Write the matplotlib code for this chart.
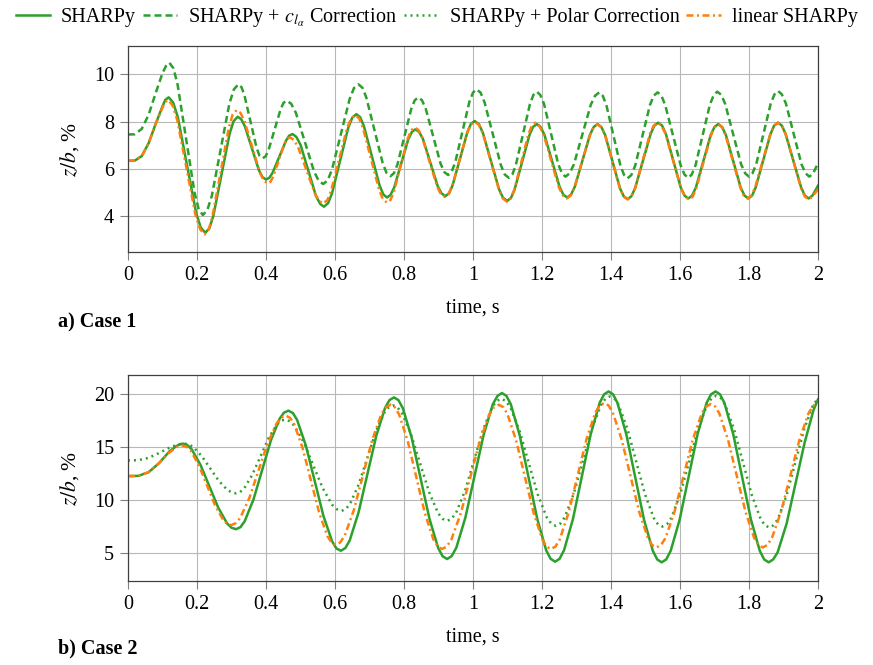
import matplotlib
matplotlib.use("Agg")
import matplotlib.pyplot as plt
from matplotlib.lines import Line2D

plt.rcParams['font.family'] = ['Liberation Serif', 'DejaVu Serif']
plt.rcParams['mathtext.fontset'] = 'stix'
plt.rcParams['font.size'] = 14.5

GREEN = '#2ca02c'
ORANGE = '#ff7f0e'

# ---- Case 1 ----
c1_sharpy_t = [0, 0.02, 0.04, 0.06, 0.08, 0.10, 0.118,
               0.1445, 0.171, 0.1975, 0.224, 0.2475, 0.271, 0.2945, 0.318,
               0.3385, 0.359, 0.3795, 0.400, 0.419, 0.4385, 0.458, 0.477,
               0.500, 0.5225, 0.545, 0.568, 0.5915, 0.615, 0.6385, 0.662,
               0.684, 0.7065, 0.729, 0.751, 0.7715, 0.792, 0.8125, 0.833,
               0.855, 0.8765, 0.898, 0.920, 0.941, 0.9625, 0.984, 1.005,
               1.0285, 1.052, 1.0755, 1.099, 1.1205, 1.142, 1.1635, 1.185,
               1.207, 1.229, 1.251, 1.273, 1.295, 1.317, 1.339, 1.361,
               1.383, 1.4045, 1.426, 1.448, 1.470, 1.4925, 1.515, 1.537,
               1.559, 1.5805, 1.602, 1.624, 1.646, 1.6675, 1.689, 1.711,
               1.733, 1.7545, 1.776, 1.798, 1.8195, 1.841, 1.8625, 1.884,
               1.906, 1.9285, 1.951, 1.973, 2.0]
c1_sharpy_z = [6.35, 6.36, 6.55, 7.1, 7.9, 8.65, 9.03,
               8.19, 6.17, 4.15, 3.31, 4.03, 5.76, 7.49, 8.21,
               7.82, 6.89, 5.95, 5.56, 5.84, 6.52, 7.20, 7.48,
               7.03, 5.95, 4.86, 4.41, 4.98, 6.37, 7.75, 8.32,
               7.81, 6.56, 5.32, 4.80, 5.22, 6.24, 7.26, 7.68,
               7.27, 6.27, 5.27, 4.86, 5.32, 6.45, 7.57, 8.03,
               7.54, 6.35, 5.15, 4.66, 5.13, 6.28, 7.43, 7.90,
               7.45, 6.35, 5.25, 4.80, 5.25, 6.35, 7.45, 7.90,
               7.44, 6.32, 5.19, 4.73, 5.20, 6.35, 7.49, 7.96,
               7.49, 6.36, 5.23, 4.76, 5.22, 6.33, 7.44, 7.90,
               7.44, 6.33, 5.22, 4.76, 5.23, 6.36, 7.49, 7.96,
               7.49, 6.36, 5.23, 4.76, 5.30]
# readings close to each peak / trough
c1_sharpy_pk_t = [0.108, 0.131, 0.211, 0.236, 0.306, 0.328, 0.390, 0.4096,
                  0.467, 0.488, 0.557, 0.580, 0.650, 0.673, 0.740, 0.761,
                  0.823, 0.844, 0.909, 0.931, 0.994, 1.017, 1.087, 1.110,
                  1.174, 1.196, 1.262, 1.284, 1.350, 1.372, 1.437, 1.459,
                  1.526, 1.548, 1.613, 1.635, 1.700, 1.722, 1.787, 1.809,
                  1.873, 1.895, 1.962, 1.984]
c1_sharpy_pk_z = [8.92, 8.81, 3.53, 3.50, 8.02, 8.11, 5.66, 5.63,
                  7.41, 7.36, 4.53, 4.56, 8.17, 8.19, 4.93, 4.91,
                  7.57, 7.57, 4.97, 4.98, 7.91, 7.90, 4.79, 4.78,
                  7.78, 7.78, 4.92, 4.92, 7.78, 7.78, 4.85, 4.85,
                  7.84, 7.84, 4.88, 4.88, 7.78, 7.78, 4.88, 4.88,
                  7.84, 7.84, 4.88, 4.88]

c1_cla_t = [0, 0.02, 0.04, 0.06, 0.08, 0.10, 0.120,
            0.144, 0.1685, 0.193, 0.217, 0.243, 0.2685, 0.294, 0.320,
            0.3375, 0.355, 0.3725, 0.390, 0.4075, 0.425, 0.4425, 0.460,
            0.4865, 0.513, 0.5395, 0.566, 0.5915, 0.617, 0.6425, 0.668,
            0.691, 0.7145, 0.738, 0.761, 0.781, 0.801, 0.821, 0.841,
            0.863, 0.8845, 0.906, 0.928, 0.9485, 0.969, 0.9895, 1.010,
            1.0335, 1.057, 1.0805, 1.104, 1.124, 1.1445, 1.165, 1.185,
            1.206, 1.2265, 1.247, 1.268, 1.2925, 1.317, 1.3415, 1.366,
            1.3865, 1.407, 1.4275, 1.448, 1.470, 1.4915, 1.513, 1.535,
            1.557, 1.5795, 1.602, 1.624, 1.645, 1.666, 1.687, 1.708,
            1.731, 1.754, 1.777, 1.800, 1.821, 1.842, 1.863, 1.884,
            1.907, 1.9295, 1.952, 1.975, 2.0]
c1_cla_z = [7.46, 7.47, 7.7, 8.3, 9.2, 10.05, 10.49,
            9.55, 7.28, 5.00, 4.06, 4.87, 6.82, 8.77, 9.58,
            9.12, 8.02, 6.91, 6.45, 6.81, 7.67, 8.53, 8.89,
            8.38, 7.13, 5.89, 5.37, 5.99, 7.48, 8.96, 9.58,
            9.01, 7.64, 6.27, 5.70, 6.19, 7.37, 8.54, 9.03,
            8.55, 7.39, 6.23, 5.75, 6.28, 7.56, 8.84, 9.37,
            8.82, 7.50, 6.18, 5.63, 6.16, 7.45, 8.74, 9.27,
            8.75, 7.48, 6.21, 5.68, 6.20, 7.46, 8.72, 9.24,
            8.71, 7.43, 6.14, 5.61, 6.14, 7.43, 8.71, 9.24,
            8.71, 7.44, 6.16, 5.63, 6.16, 7.45, 8.74, 9.27,
            8.75, 7.48, 6.21, 5.68, 6.21, 7.49, 8.77, 9.30,
            8.77, 7.49, 6.21, 5.68, 6.25]
c1_cla_pk_t = [0.110, 0.132, 0.205, 0.230, 0.307, 0.329, 0.381, 0.399,
               0.451, 0.473, 0.553, 0.579, 0.655, 0.680, 0.749, 0.771,
               0.831, 0.852, 0.917, 0.938, 1.000, 1.022, 1.092, 1.114,
               1.175, 1.195, 1.258, 1.280, 1.354, 1.376, 1.438, 1.459,
               1.524, 1.546, 1.613, 1.634, 1.698, 1.720, 1.789, 1.810,
               1.874, 1.895, 1.964, 1.986]
c1_cla_pk_z = [10.35, 10.25, 4.30, 4.27, 9.37, 9.46, 6.57, 6.54,
               8.80, 8.76, 5.50, 5.53, 9.42, 9.43, 5.85, 5.83,
               8.90, 8.91, 5.87, 5.89, 9.23, 9.23, 5.77, 5.77,
               9.13, 9.13, 5.82, 5.82, 9.10, 9.10, 5.75, 5.75,
               9.10, 9.10, 5.77, 5.77, 9.13, 9.13, 5.82, 5.82,
               9.16, 9.16, 5.82, 5.82]

c1_lin_t = [0, 0.02, 0.04, 0.06, 0.08, 0.10, 0.116,
            0.1425, 0.169, 0.1955, 0.222, 0.245, 0.2685, 0.292, 0.315,
            0.3375, 0.36, 0.3825, 0.405, 0.421, 0.437, 0.453, 0.469,
            0.493, 0.5175, 0.542, 0.566, 0.589, 0.612, 0.635, 0.658,
            0.681, 0.7045, 0.728, 0.751, 0.771, 0.791, 0.811, 0.831,
            0.853, 0.8745, 0.896, 0.918, 0.940, 0.9615, 0.983, 1.005,
            1.0285, 1.052, 1.0755, 1.099, 1.1195, 1.14, 1.1605, 1.181,
            1.204, 1.2265, 1.249, 1.272, 1.294, 1.3165, 1.339, 1.361,
            1.383, 1.4045, 1.426, 1.448, 1.470, 1.4915, 1.513, 1.535,
            1.558, 1.5805, 1.603, 1.626, 1.647, 1.6685, 1.690, 1.711,
            1.732, 1.7535, 1.775, 1.796, 1.818, 1.840, 1.862, 1.884,
            1.906, 1.9285, 1.951, 1.973, 2.0]
c1_lin_z = [6.35, 6.36, 6.55, 7.1, 7.9, 8.6, 8.92,
            8.09, 6.08, 4.07, 3.24, 4.01, 5.87, 7.72, 8.49,
            8.04, 6.94, 5.84, 5.39, 5.68, 6.37, 7.05, 7.34,
            6.93, 5.95, 4.96, 4.55, 5.10, 6.42, 7.73, 8.28,
            7.74, 6.43, 5.12, 4.58, 5.05, 6.17, 7.29, 7.76,
            7.33, 6.30, 5.26, 4.83, 5.29, 6.42, 7.54, 8.00,
            7.51, 6.31, 5.12, 4.62, 5.11, 6.29, 7.47, 7.96,
            7.49, 6.36, 5.23, 4.76, 5.22, 6.33, 7.43, 7.89,
            7.43, 6.31, 5.18, 4.72, 5.19, 6.34, 7.49, 7.96,
            7.49, 6.34, 5.19, 4.72, 5.18, 6.31, 7.43, 7.89,
            7.43, 6.33, 5.22, 4.76, 5.23, 6.36, 7.49, 7.96,
            7.49, 6.34, 5.19, 4.72, 5.15]
c1_lin_pk_t = [0.107, 0.129, 0.209, 0.234, 0.303, 0.326, 0.394, 0.413,
               0.461, 0.481, 0.554, 0.578, 0.647, 0.670, 0.739, 0.761,
               0.821, 0.842, 0.907, 0.929, 0.994, 1.017, 1.087, 1.109,
               1.171, 1.192, 1.261, 1.283, 1.350, 1.372, 1.437, 1.459,
               1.524, 1.546, 1.615, 1.637, 1.700, 1.722, 1.785, 1.807,
               1.873, 1.895, 1.962, 1.984]
c1_lin_pk_z = [8.82, 8.70, 3.46, 3.44, 8.29, 8.37, 5.51, 5.46,
               7.27, 7.23, 4.66, 4.69, 8.14, 8.14, 4.72, 4.70,
               7.64, 7.65, 4.94, 4.95, 7.88, 7.87, 4.75, 4.75,
               7.84, 7.84, 4.88, 4.88, 7.77, 7.77, 4.84, 4.84,
               7.84, 7.84, 4.84, 4.84, 7.77, 7.77, 4.88, 4.88,
               7.84, 7.84, 4.84, 4.84]

# ---- Case 2 ----
c2_sharpy_t = [0, 0.03, 0.06, 0.09, 0.12, 0.14, 0.159,
               0.1847, 0.2103, 0.236, 0.2617, 0.2873, 0.313,
               0.3383, 0.3637, 0.389, 0.4143, 0.4397, 0.465,
               0.4903, 0.5157, 0.541, 0.5663, 0.5917, 0.617,
               0.6427, 0.6683, 0.694, 0.7197, 0.7453, 0.771,
               0.7967, 0.8223, 0.848, 0.8737, 0.8993, 0.925,
               0.9515, 0.978, 1.0045, 1.031, 1.0575, 1.084,
               1.1097, 1.1353, 1.161, 1.1867, 1.2123, 1.238,
               1.2638, 1.2897, 1.3155, 1.3413, 1.3672, 1.393,
               1.4187, 1.4443, 1.470, 1.4957, 1.5213, 1.547,
               1.573, 1.599, 1.625, 1.651, 1.677, 1.703,
               1.7287, 1.7543, 1.780, 1.8057, 1.8313, 1.857,
               1.883, 1.909, 1.935, 1.961, 1.987, 2.0]
c2_sharpy_z = [12.28, 12.30, 12.65, 13.5, 14.6, 15.1, 15.34,
               14.80, 13.33, 11.31, 9.30, 7.82, 7.28,
               8.03, 10.07, 12.86, 15.65, 17.69, 18.44,
               17.56, 15.14, 11.85, 8.55, 6.13, 5.25,
               6.22, 8.86, 12.47, 16.08, 18.72, 19.69,
               18.67, 15.89, 12.08, 8.28, 5.49, 4.47,
               5.52, 8.38, 12.29, 16.19, 19.05, 20.10,
               19.04, 16.13, 12.16, 8.19, 5.28, 4.22,
               5.29, 8.23, 12.24, 16.24, 19.18, 20.25,
               19.17, 16.23, 12.21, 8.18, 5.24, 4.16,
               5.24, 8.18, 12.21, 16.23, 19.17, 20.25,
               19.17, 16.23, 12.21, 8.18, 5.24, 4.16,
               5.1, 7.8, 11.6, 15.4, 18.5, 19.5]
c2_sharpy_pk_t = [0.149, 0.172, 0.300, 0.326, 0.452, 0.478, 0.604, 0.630,
                  0.758, 0.784, 0.912, 0.938, 1.071, 1.097, 1.225, 1.251,
                  1.380, 1.406, 1.534, 1.560, 1.690, 1.716, 1.844, 1.870]
c2_sharpy_pk_z = [15.25, 15.20, 7.42, 7.47, 18.25, 18.22, 5.47, 5.50,
                  19.44, 19.43, 4.73, 4.74, 19.83, 19.83, 4.49, 4.49,
                  19.98, 19.98, 4.43, 4.43, 19.98, 19.98, 4.43, 4.43]

c2_polar_t = [0, 0.03, 0.06, 0.09, 0.12, 0.14, 0.164,
              0.1888, 0.2137, 0.2385, 0.2633, 0.2882, 0.313,
              0.3367, 0.3603, 0.384, 0.4077, 0.4313, 0.455,
              0.4823, 0.5097, 0.537, 0.5643, 0.5917, 0.619,
              0.6438, 0.6687, 0.6935, 0.7183, 0.7432, 0.768,
              0.7942, 0.8203, 0.8465, 0.8727, 0.8988, 0.925,
              0.9512, 0.9773, 1.0035, 1.0297, 1.0558, 1.082,
              1.1083, 1.1347, 1.161, 1.1873, 1.2137, 1.240,
              1.2662, 1.2923, 1.3185, 1.3447, 1.3708, 1.397,
              1.4223, 1.4477, 1.473, 1.4983, 1.5237, 1.549,
              1.575, 1.601, 1.627, 1.653, 1.679, 1.705,
              1.7307, 1.7563, 1.782, 1.8077, 1.8333, 1.859,
              1.8842, 1.9093, 1.9345, 1.9597, 1.9848, 2.0]
c2_polar_z = [13.75, 13.78, 14.0, 14.45, 14.95, 15.2, 15.34,
              15.03, 14.17, 13.0, 11.83, 10.97, 10.66,
              11.12, 12.40, 14.13, 15.87, 17.14, 17.60,
              17.02, 15.45, 13.30, 11.15, 9.58, 9.00,
              9.67, 11.49, 13.97, 16.46, 18.27, 18.94,
              18.21, 16.22, 13.50, 10.78, 8.79, 8.06,
              8.83, 10.94, 13.81, 16.69, 18.79, 19.56,
              18.76, 16.57, 13.58, 10.59, 8.40, 7.60,
              8.42, 10.65, 13.69, 16.74, 18.96, 19.78,
              18.96, 16.72, 13.66, 10.59, 8.35, 7.53,
              8.35, 10.61, 13.69, 16.76, 19.02, 19.84,
              19.01, 16.74, 13.64, 10.54, 8.27, 7.44,
              8.26, 10.52, 13.59, 16.67, 18.92, 19.6]
c2_polar_pk_t = [0.152, 0.176, 0.301, 0.325, 0.443, 0.469, 0.606, 0.631,
                 0.756, 0.781, 0.912, 0.938, 1.069, 1.095, 1.227, 1.253,
                 1.384, 1.410, 1.536, 1.562, 1.692, 1.718, 1.846, 1.871]
c2_polar_pk_z = [15.30, 15.26, 10.74, 10.78, 17.48, 17.45, 9.15, 9.17,
                 18.76, 18.75, 8.25, 8.26, 19.36, 19.36, 7.80, 7.81,
                 19.57, 19.57, 7.74, 7.74, 19.63, 19.63, 7.65, 7.65]

c2_lin_t = [0, 0.03, 0.06, 0.09, 0.12, 0.14, 0.159,
            0.1823, 0.2057, 0.229, 0.2523, 0.2757, 0.299,
            0.3255, 0.352, 0.3785, 0.405, 0.4315, 0.458,
            0.482, 0.506, 0.530, 0.554, 0.578, 0.602,
            0.6285, 0.655, 0.6815, 0.708, 0.7345, 0.761,
            0.7858, 0.8107, 0.8355, 0.8603, 0.8852, 0.910,
            0.9375, 0.965, 0.9925, 1.020, 1.0475, 1.075,
            1.1002, 1.1253, 1.1505, 1.1757, 1.2008, 1.226,
            1.2517, 1.2773, 1.303, 1.3287, 1.3543, 1.380,
            1.4053, 1.4307, 1.456, 1.4813, 1.5067, 1.532,
            1.5582, 1.5843, 1.6105, 1.6367, 1.6628, 1.689,
            1.7142, 1.7393, 1.7645, 1.7897, 1.8148, 1.840,
            1.8667, 1.8933, 1.920, 1.9467, 1.9733, 2.0]
c2_lin_z = [12.28, 12.30, 12.65, 13.5, 14.5, 15.0, 15.15,
            14.65, 13.28, 11.41, 9.53, 8.16, 7.66,
            8.35, 10.24, 12.82, 15.39, 17.28, 17.97,
            17.16, 14.93, 11.89, 8.85, 6.62, 5.81,
            6.69, 9.11, 12.41, 15.70, 18.12, 19.00,
            18.09, 15.60, 12.21, 8.81, 6.32, 5.41,
            6.32, 8.81, 12.21, 15.60, 18.09, 19.00,
            18.09, 15.60, 12.21, 8.81, 6.32, 5.41,
            6.33, 8.85, 12.29, 15.72, 18.24, 19.16,
            18.25, 15.76, 12.36, 8.96, 6.47, 5.56,
            6.46, 8.94, 12.31, 15.69, 18.16, 19.06,
            18.16, 15.69, 12.31, 8.94, 6.46, 5.56,
            6.47, 8.96, 12.36, 15.76, 18.25, 19.16]
c2_lin_pk_t = [0.149, 0.171, 0.287, 0.312, 0.445, 0.470, 0.590, 0.615,
               0.748, 0.773, 0.898, 0.924, 1.061, 1.088, 1.213, 1.239,
               1.367, 1.393, 1.519, 1.545, 1.676, 1.702, 1.827, 1.853,
               1.987]
c2_lin_pk_z = [15.10, 15.02, 7.79, 7.84, 17.79, 17.76, 6.02, 6.03,
               18.78, 18.77, 5.64, 5.64, 18.77, 18.77, 5.64, 5.64,
               18.93, 18.93, 5.79, 5.79, 18.83, 18.83, 5.79, 5.79,
               18.93]

labels = ['SHARPy', r'SHARPy + $c_{l_\alpha}$ Correction',
          'SHARPy + Polar Correction', 'linear SHARPy']
x_ticks = [0, 0.2, 0.4, 0.6, 0.8, 1, 1.2, 1.4, 1.6, 1.8, 2]
x_ticklabels = ['0', '0.2', '0.4', '0.6', '0.8', '1', '1.2', '1.4', '1.6', '1.8', '2']


def merged(t, z, pt, pz):
    pts = sorted(zip(list(t) + list(pt), list(z) + list(pz)))
    return [p[0] for p in pts], [p[1] for p in pts]


LW = 1.8
styles = {
    'solid': dict(color=GREEN, lw=LW, ls='-'),
    'dash': dict(color=GREEN, lw=LW, ls=(0, (2.8, 1.6))),
    'dot': dict(color=GREEN, lw=LW, ls=(0, (0.8, 1.6))),
    'dashdot': dict(color=ORANGE, lw=LW, ls=(0, (2.8, 1.4, 0.8, 1.4))),
}

fig = plt.figure(figsize=(8.73, 6.65), dpi=100)
ax1 = fig.add_axes([0.1466, 0.6211, 0.7904, 0.3098])
ax2 = fig.add_axes([0.1466, 0.1263, 0.7904, 0.3098])

ax1.plot(*merged(c1_sharpy_t, c1_sharpy_z, c1_sharpy_pk_t, c1_sharpy_pk_z), **styles['solid'])
ax1.plot(*merged(c1_cla_t, c1_cla_z, c1_cla_pk_t, c1_cla_pk_z), **styles['dash'])
ax1.plot(*merged(c1_lin_t, c1_lin_z, c1_lin_pk_t, c1_lin_pk_z), **styles['dashdot'])

ax2.plot(*merged(c2_sharpy_t, c2_sharpy_z, c2_sharpy_pk_t, c2_sharpy_pk_z), **styles['solid'])
ax2.plot(*merged(c2_polar_t, c2_polar_z, c2_polar_pk_t, c2_polar_pk_z), **styles['dot'])
ax2.plot(*merged(c2_lin_t, c2_lin_z, c2_lin_pk_t, c2_lin_pk_z), **styles['dashdot'])

ax1.set_ylim(2.5, 11.2)
ax1.set_yticks([4, 6, 8, 10])
ax2.set_ylim(2.4, 21.8)
ax2.set_yticks([5, 10, 15, 20])

for ax in (ax1, ax2):
    ax.set_xlim(0, 2)
    ax.set_xticks(x_ticks)
    ax.set_xticklabels(x_ticklabels)
    ax.grid(True, color='#b8b8b8', lw=0.8)
    ax.set_axisbelow(True)
    ax.tick_params(direction='out', length=6, width=0.8, color='#808080', pad=4)
    for s in ax.spines.values():
        s.set_color('#404040')
        s.set_linewidth(0.9)
    ax.set_xlabel('time, s', labelpad=10)
    ax.set_ylabel(r'$z/b$, %', labelpad=9, fontsize=15.5)

fig.text(0.066, 0.515, 'a) Case 1', fontweight='bold', va='center')
fig.text(0.066, 0.025, 'b) Case 2', fontweight='bold', va='center')

handles = [Line2D([], [], **styles[k]) for k in ('solid', 'dash', 'dot', 'dashdot')]
fig.legend(handles, labels, loc='upper center', bbox_to_anchor=(0.5, 1.012), ncol=4,
           frameon=False, handlelength=1.7, handletextpad=0.55, columnspacing=0.35,
           borderaxespad=0.3)

fig.savefig('out.png', dpi=100)
